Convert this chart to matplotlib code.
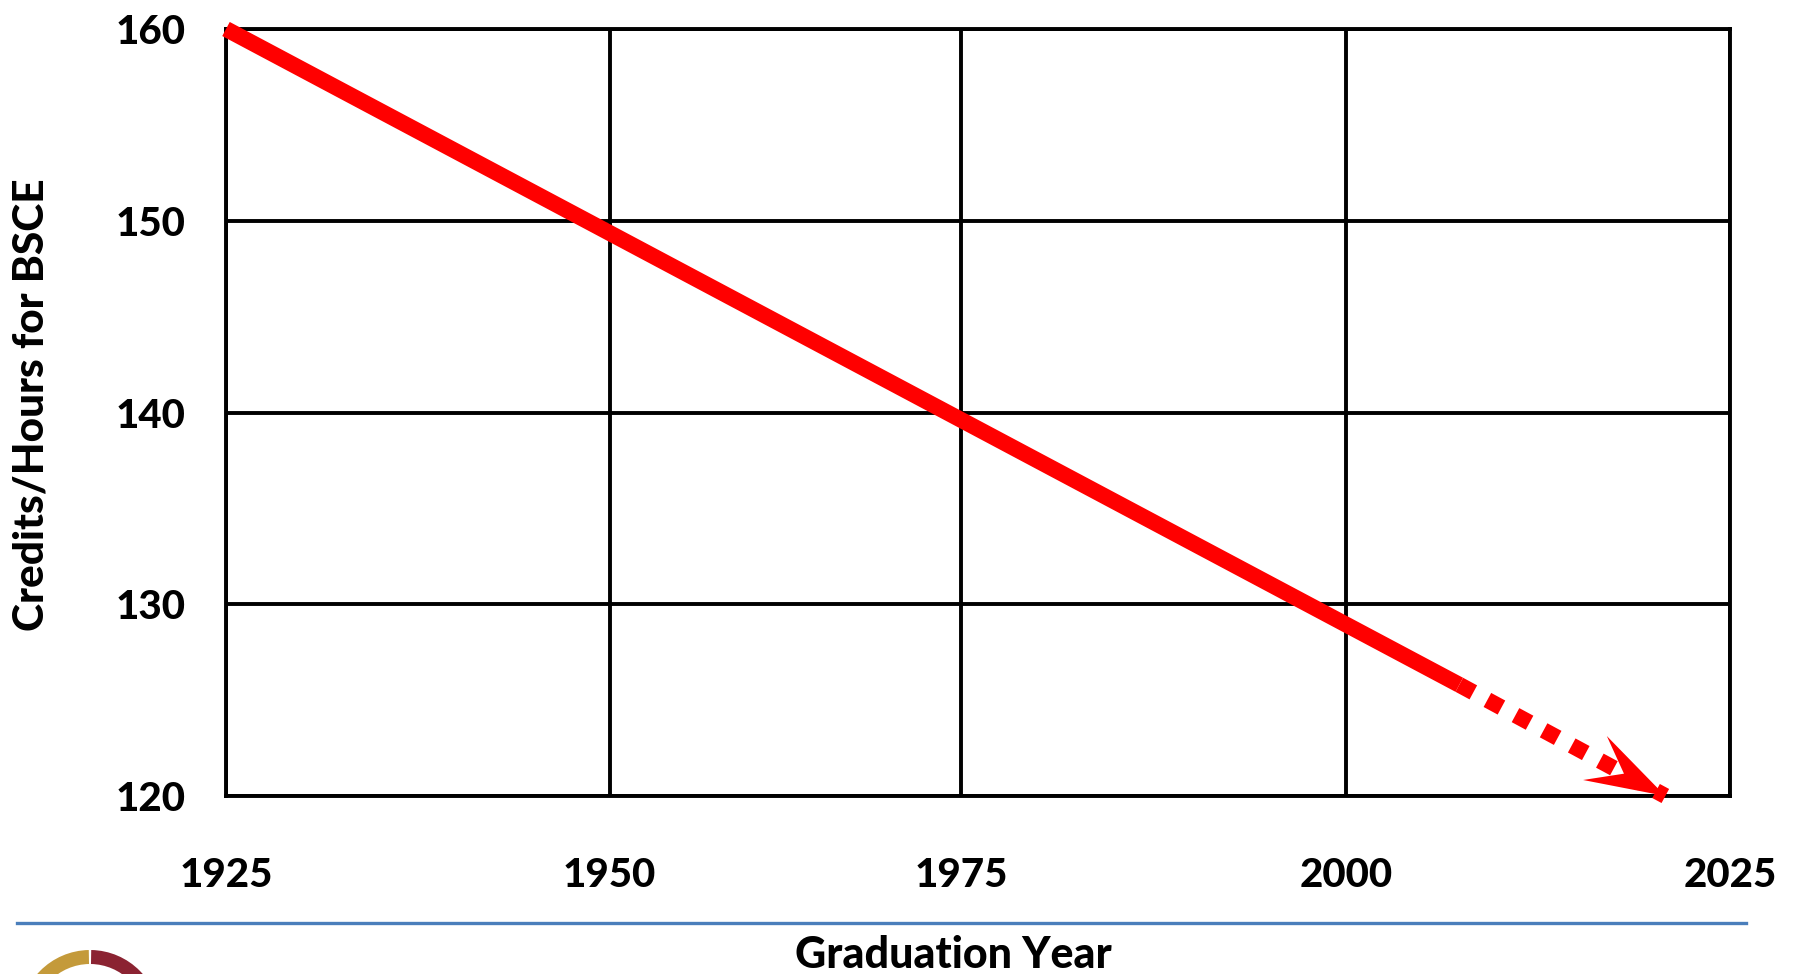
import matplotlib
matplotlib.use("Agg")
import matplotlib.pyplot as plt
import numpy as np
from matplotlib.patches import Polygon, Wedge
from matplotlib.transforms import IdentityTransform
from matplotlib.lines import Line2D

# ---- data ----
years_trend = [1925, 2007]
credits_trend = [160, 125.8]
years_projection = [2007, 2020.7]
credits_projection = [125.8, 120]
x_tick_positions = [1925, 1950.5, 1973.9, 1999.5, 2025]
x_tick_labels = ["1925", "1950", "1975", "2000", "2025"]
y_ticks = [120, 130, 140, 150, 160]
y_tick_labels = ["120", "130", "140", "150", "160"]
x_label = "Graduation Year"
y_label = "Credits/Hours for BSCE"

plt.rcParams['font.family'] = ['Lato', 'DejaVu Sans']
FW = 900

W, H = 1799, 974
fig = plt.figure(figsize=(W / 100, H / 100), dpi=100)
fig.patch.set_facecolor('white')
ax = fig.add_axes([226 / W, 1 - 796 / H, (1730 - 226) / W, (796 - 29) / H])
ax.set_xlim(1925, 2025)
ax.set_ylim(120, 160)

ax.set_xticks(x_tick_positions)
ax.set_xticklabels(x_tick_labels, fontsize=29, fontweight=FW)
ax.set_yticks(y_ticks)
ax.set_yticklabels(y_tick_labels, fontsize=29, fontweight=FW)
ax.tick_params(axis='x', length=0, pad=44)
ax.tick_params(axis='y', length=0, pad=29)
ax.grid(True, color='black', lw=2.8)
ax.set_axisbelow(True)
for s in ax.spines.values():
    s.set_linewidth(2.8)
    s.set_color('black')

red = '#FF0000'
lw = 11.5
ax.plot(years_trend, credits_trend, color=red, lw=lw, solid_capstyle='butt',
        clip_on=False, zorder=5)
ax.plot(years_projection, credits_projection, color=red, lw=lw,
        linestyle=(0, (1, 1)), dash_capstyle='butt', clip_on=False, zorder=5)

# arrowhead (notched) at the end of the projection, built in display space
p0 = ax.transData.transform((years_projection[0], credits_projection[0]))
p1 = ax.transData.transform((years_projection[-1], credits_projection[-1]))
u = (p1 - p0) / np.linalg.norm(p1 - p0)
n = np.array([-u[1], u[0]])
L, hw, N = 80, 25, 47
pts = [p1, p1 - L * u + hw * n, p1 - N * u, p1 - L * u - hw * n]
head = Polygon(pts, closed=True, transform=IdentityTransform(),
               facecolor=red, edgecolor='none', zorder=6, clip_on=False)
fig.add_artist(head)

# axis labels
fig.text(32 / W, 1 - 405 / H, y_label, rotation=90, ha='center', va='center',
         fontsize=30.5, fontweight=FW)
fig.text(953 / W, 1 - 968 / H, x_label, ha='center', va='baseline',
         fontsize=31, fontweight=FW)

# blue separator line
fig.add_artist(Line2D([17 / W, 1746 / W], [1 - 923 / H, 1 - 923 / H],
                      transform=fig.transFigure, color='#4A7EBB', lw=2.4))

# logo ring at bottom-left
cx, cy = 90, H - 1020
fig.add_artist(Wedge((cx, cy), 70, 91, 269, width=14, transform=IdentityTransform(),
                     facecolor='#C49A3A', edgecolor='none'))
fig.add_artist(Wedge((cx, cy), 70, -89, 89, width=14, transform=IdentityTransform(),
                     facecolor='#8B2332', edgecolor='none'))

fig.savefig('out.png', dpi=100, facecolor='white')
